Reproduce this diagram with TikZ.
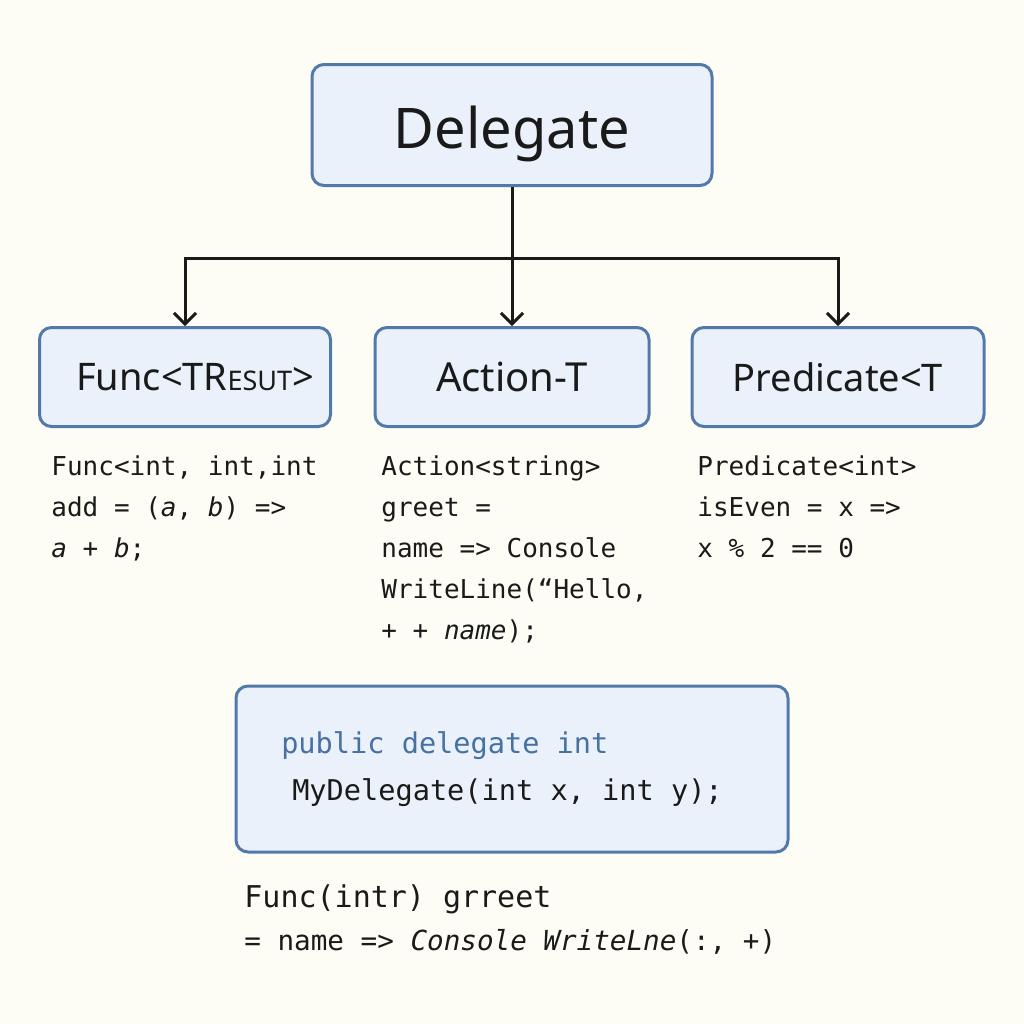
\documentclass[tikz,border=0pt]{standalone}
\usepackage{fontspec}
\setmainfont{Noto Sans}
\newfontfamily\codefont{DejaVu Sans Mono}
\usetikzlibrary{arrows.meta, positioning}

\definecolor{paper}{HTML}{FDFDF6}
\definecolor{boxfill}{HTML}{EAF1FA}
\definecolor{boxline}{HTML}{5279AA}
\definecolor{inkdark}{HTML}{1A1A1A}
\definecolor{keyblue}{HTML}{4672A3}

\tikzset{
    typebox/.style={rectangle, draw=boxline, fill=boxfill, line width=1.5pt,
        rounded corners=6pt, text=inkdark, inner sep=0pt},
    wire/.style={draw=inkdark, line width=1.5pt},
    code/.style={align=left, inner sep=0pt, anchor=north west, text=inkdark,
        font=\codefont\fontsize{13}{20.5}\selectfont}
}

\begin{document}
\begin{tikzpicture}[x=0.5pt, y=-0.5pt, >={Straight Barb[length=5.5pt, width=11pt]}]
    \useasboundingbox[fill=paper] (0,0) rectangle (1024,1024);

    % Boxes
    \node (delegate) [typebox, minimum width=200pt, minimum height=60.5pt,
        text height=27pt, text depth=4pt,
        font=\fontsize{28}{32}\selectfont] at (512,125) {Delegate};
    \node (func) [typebox, minimum width=145.5pt, minimum height=49.5pt,
        font=\fontsize{19}{22}\selectfont] at (185,377) {\hspace*{10pt}Func<TR{\fontsize{13.5}{16}\selectfont ESUT}>};
    \node (action) [typebox, minimum width=137pt, minimum height=49.5pt,
        font=\fontsize{20}{24}\selectfont] at (512,377) {Action-T};
    \node (pred) [typebox, minimum width=146pt, minimum height=49.5pt,
        font=\fontsize{19}{22}\selectfont] at (838,377) {Predicate<T};
    \node (decl) [typebox, minimum width=276pt, minimum height=83pt, align=left,
        font=\codefont\fontsize{14.3}{23.5}\selectfont] at (512,769)
        {\textcolor{keyblue}{public delegate int}\\\hspace*{5.5pt}MyDelegate(int x, int y);\hspace*{10pt}};

    % Edges
    \coordinate (split) at (512,258);
    \draw[wire] (delegate) -- (split);
    \draw[wire, ->] (split) -- (action);
    \draw[wire, ->] (split) -| (func);
    \draw[wire, ->] (split) -| (pred);

    % Code samples
    \node (funccode) [code] at (51,455)
        {Func<int, int,int\\add = (\textit{a}, \textit{b}) =>\\\textit{a} + \textit{b};};
    \node (actioncode) [code] at (381,455)
        {Action<string>\\greet =\\name => Console\\WriteLine(“Hello,\\+ + \textit{name});};
    \node (predcode) [code] at (697,455)
        {Predicate<int>\\isEven = x =>\\x \% 2 == 0};
    \node (usage) [code, font=\codefont\fontsize{13.8}{21.5}\selectfont] at (244,884)
        {{\fontsize{15}{21.5}\selectfont Func(intr) grreet}\\= name => \textit{Console WriteLne}(:, +)};
\end{tikzpicture}
\end{document}
